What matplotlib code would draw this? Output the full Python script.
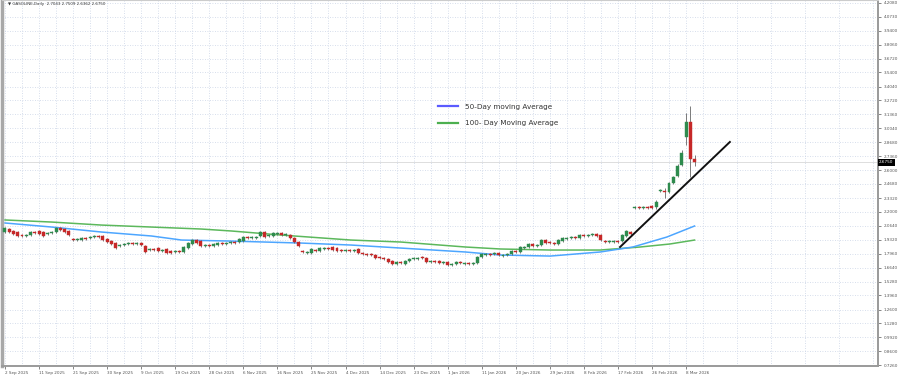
import matplotlib
matplotlib.use("Agg")
import matplotlib.pyplot as plt
from matplotlib.lines import Line2D

# ---------------- data ----------------
title_text = "\u25BC GASOLINE,Daily  2.7043 2.7509 2.6362 2.6750"

opens = [
    2.005, 2.034, 2.015, 2.005, 1.976, 1.967, 1.976, 2.005, 2.015, 2.005,
    1.986, 1.996, 2.005, 2.044, 2.034, 2.015, 1.938, 1.928, 1.928, 1.948,
    1.948, 1.957, 1.967, 1.967, 1.938, 1.919, 1.899, 1.871, 1.880, 1.890,
    1.899, 1.890, 1.899, 1.871, 1.832, 1.842, 1.851, 1.822, 1.842, 1.822,
    1.813, 1.822, 1.813, 1.851, 1.890, 1.928, 1.919, 1.871, 1.880, 1.871,
    1.880, 1.899, 1.890, 1.899, 1.909, 1.909, 1.919, 1.957, 1.948, 1.948,
    1.967, 2.005, 1.967, 1.967, 1.986, 1.996, 1.976, 1.976, 1.948, 1.909,
    1.822, 1.803, 1.803, 1.832, 1.822, 1.842, 1.851, 1.861, 1.851, 1.832,
    1.822, 1.832, 1.822, 1.842, 1.803, 1.794, 1.794, 1.784, 1.765, 1.755,
    1.746, 1.726, 1.698, 1.717, 1.698, 1.726, 1.746, 1.746, 1.765, 1.755,
    1.717, 1.726, 1.726, 1.707, 1.717, 1.688, 1.698, 1.717, 1.698, 1.707,
    1.698, 1.707, 1.765, 1.784, 1.794, 1.794, 1.803, 1.774, 1.784, 1.794,
    1.822, 1.813, 1.851, 1.861, 1.890, 1.871, 1.880, 1.928, 1.909, 1.899,
    1.890, 1.919, 1.938, 1.948, 1.957, 1.948, 1.976, 1.967, 1.976, 1.986,
    1.976, 1.919, 1.909, 1.909, 1.919, 1.919, 1.967, 2.005, 2.236, 2.246,
    2.236, 2.246, 2.255, 2.246, 2.399, 2.399, 2.390, 2.476, 2.544, 2.649,
    2.919, 3.063, 2.707,
]
closes = [
    2.044, 2.005, 1.986, 1.967, 1.967, 1.976, 2.005, 1.996, 1.986, 1.967,
    1.996, 2.005, 2.044, 2.025, 2.005, 1.976, 1.928, 1.938, 1.948, 1.938,
    1.957, 1.967, 1.957, 1.928, 1.909, 1.890, 1.851, 1.880, 1.890, 1.899,
    1.890, 1.899, 1.880, 1.813, 1.842, 1.832, 1.822, 1.832, 1.803, 1.803,
    1.822, 1.813, 1.861, 1.899, 1.928, 1.899, 1.871, 1.880, 1.871, 1.890,
    1.899, 1.890, 1.899, 1.909, 1.899, 1.938, 1.957, 1.948, 1.957, 1.957,
    2.005, 1.957, 1.976, 1.996, 1.996, 1.976, 1.986, 1.948, 1.909, 1.871,
    1.813, 1.813, 1.842, 1.822, 1.851, 1.851, 1.842, 1.832, 1.822, 1.822,
    1.832, 1.822, 1.832, 1.803, 1.794, 1.784, 1.784, 1.755, 1.755, 1.746,
    1.717, 1.698, 1.717, 1.707, 1.726, 1.746, 1.755, 1.755, 1.755, 1.717,
    1.726, 1.717, 1.707, 1.717, 1.688, 1.698, 1.717, 1.707, 1.707, 1.698,
    1.707, 1.765, 1.794, 1.794, 1.784, 1.803, 1.784, 1.784, 1.794, 1.822,
    1.813, 1.861, 1.861, 1.890, 1.871, 1.880, 1.928, 1.899, 1.899, 1.890,
    1.928, 1.948, 1.948, 1.957, 1.948, 1.976, 1.967, 1.976, 1.986, 1.967,
    1.928, 1.909, 1.919, 1.919, 1.909, 1.976, 2.015, 1.986, 2.246, 2.236,
    2.246, 2.236, 2.236, 2.294, 2.409, 2.390, 2.476, 2.534, 2.640, 2.765,
    3.063, 2.707, 2.678,
]
highs = [
    2.056, 2.046, 2.027, 2.017, 1.988, 1.988, 2.017, 2.017, 2.027, 2.017,
    2.008, 2.017, 2.056, 2.056, 2.046, 2.027, 1.950, 1.950, 1.960, 1.960,
    1.969, 1.979, 1.979, 1.979, 1.950, 1.931, 1.911, 1.892, 1.902, 1.911,
    1.911, 1.911, 1.911, 1.880, 1.854, 1.854, 1.863, 1.844, 1.854, 1.834,
    1.834, 1.834, 1.873, 1.911, 1.940, 1.940, 1.931, 1.892, 1.892, 1.902,
    1.911, 1.911, 1.911, 1.921, 1.921, 1.950, 1.969, 1.969, 1.969, 1.969,
    2.017, 2.017, 1.988, 2.008, 2.008, 2.008, 1.998, 1.988, 1.960, 1.921,
    1.834, 1.825, 1.854, 1.844, 1.863, 1.863, 1.863, 1.873, 1.863, 1.844,
    1.844, 1.844, 1.844, 1.854, 1.815, 1.806, 1.806, 1.796, 1.777, 1.767,
    1.758, 1.738, 1.729, 1.729, 1.738, 1.758, 1.767, 1.767, 1.777, 1.767,
    1.738, 1.738, 1.738, 1.729, 1.729, 1.710, 1.729, 1.729, 1.719, 1.719,
    1.719, 1.777, 1.806, 1.806, 1.806, 1.815, 1.815, 1.796, 1.806, 1.834,
    1.834, 1.873, 1.873, 1.902, 1.902, 1.892, 1.940, 1.940, 1.921, 1.911,
    1.940, 1.960, 1.960, 1.969, 1.969, 1.988, 1.988, 1.988, 1.998, 1.998,
    1.988, 1.931, 1.931, 1.931, 1.931, 1.988, 2.027, 2.017, 2.258, 2.258,
    2.258, 2.258, 2.267, 2.314, 2.421, 2.428, 2.490, 2.545, 2.655, 2.790,
    3.149, 3.217, 2.746,
]
lows = [
    1.993, 1.993, 1.974, 1.955, 1.955, 1.955, 1.964, 1.984, 1.974, 1.955,
    1.974, 1.984, 1.993, 2.013, 1.993, 1.964, 1.916, 1.916, 1.916, 1.926,
    1.936, 1.945, 1.945, 1.916, 1.897, 1.878, 1.839, 1.859, 1.868, 1.878,
    1.878, 1.878, 1.868, 1.800, 1.820, 1.820, 1.810, 1.810, 1.791, 1.791,
    1.801, 1.801, 1.801, 1.839, 1.878, 1.887, 1.859, 1.859, 1.859, 1.859,
    1.868, 1.878, 1.878, 1.887, 1.887, 1.897, 1.907, 1.936, 1.936, 1.936,
    1.955, 1.945, 1.955, 1.955, 1.974, 1.964, 1.964, 1.936, 1.897, 1.859,
    1.801, 1.791, 1.791, 1.810, 1.810, 1.830, 1.830, 1.820, 1.810, 1.810,
    1.810, 1.810, 1.810, 1.791, 1.782, 1.772, 1.772, 1.743, 1.743, 1.734,
    1.705, 1.686, 1.686, 1.695, 1.686, 1.714, 1.734, 1.734, 1.743, 1.705,
    1.705, 1.705, 1.695, 1.695, 1.676, 1.676, 1.686, 1.695, 1.686, 1.686,
    1.686, 1.695, 1.753, 1.772, 1.772, 1.782, 1.772, 1.762, 1.772, 1.782,
    1.801, 1.801, 1.839, 1.849, 1.859, 1.859, 1.868, 1.887, 1.887, 1.878,
    1.878, 1.907, 1.926, 1.936, 1.936, 1.936, 1.955, 1.955, 1.964, 1.955,
    1.916, 1.897, 1.897, 1.897, 1.897, 1.907, 1.955, 1.974, 2.224, 2.224,
    2.224, 2.224, 2.224, 2.226, 2.387, 2.332, 2.380, 2.466, 2.530, 2.640,
    2.842, 2.534, 2.640,
]

# moving averages, read at a few bars only
ma50_bars = [0, 11, 22.7, 34.4, 41.5, 53.2, 69.6, 81.3, 93, 108.2, 116.4, 128.1, 139.8, 147.5, 155.5, 162]
ma50_vals = [2.092, 2.053, 2.005, 1.967, 1.928, 1.918, 1.899, 1.880, 1.851, 1.813, 1.784, 1.774, 1.813, 1.861, 1.957, 2.063]
ma100_bars = [0, 11, 22.7, 34.4, 46.1, 53.2, 64.9, 81.3, 93, 108.2, 116.4, 128.1, 139.8, 149.2, 156.2, 162]
ma100_vals = [2.121, 2.101, 2.072, 2.053, 2.034, 2.015, 1.976, 1.928, 1.909, 1.861, 1.842, 1.832, 1.832, 1.861, 1.890, 1.928]

trend_bars = [144.5, 170.3]
trend_vals = [1.861, 2.871]

date_ticks = list(range(0, 161, 8))
date_labels = ["2 Sep 2025", "11 Sep 2025", "21 Sep 2025", "30 Sep 2025", "9 Oct 2025",
               "19 Oct 2025", "28 Oct 2025", "6 Nov 2025", "16 Nov 2025", "25 Nov 2025",
               "4 Dec 2025", "14 Dec 2025", "23 Dec 2025", "1 Jan 2026", "11 Jan 2026",
               "20 Jan 2026", "29 Jan 2026", "8 Feb 2026", "17 Feb 2026", "26 Feb 2026",
               "8 Mar 2026"]
price_ticks = [0.7260, 0.8600, 0.9920, 1.1280, 1.2600, 1.3960, 1.5280, 1.6640, 1.7960,
               1.9320, 2.0640, 2.2000, 2.3320, 2.4680, 2.6000, 2.7360, 2.8680, 3.0040,
               3.1360, 3.2720, 3.4040, 3.5400, 3.6720, 3.8060, 3.9400, 4.0730, 4.2080]
last_price = 2.6750

legend_labels = ["50-Day moving Average", "100- Day Moving Average"]

# ---------------- plot ----------------
fig = plt.figure(figsize=(9, 3.75), dpi=100)
ax = fig.add_axes([2 / 900, 9 / 375, 876 / 900, 366 / 375])

bars = list(range(len(opens)))
up = "#2e8b4e"
down = "#c62828"
colors = [up if c >= o else down for o, c in zip(opens, closes)]
bottoms = [min(o, c) for o, c in zip(opens, closes)]
heights = [max(abs(c - o), 0.011) for o, c in zip(opens, closes)]

ax.vlines(bars, lows, highs, color="#666666", lw=0.6, zorder=3)
ax.bar(bars, heights, bottom=bottoms, width=0.7, color=colors,
       edgecolor=colors, linewidth=0.3, zorder=4)

ax.plot(ma100_bars, ma100_vals, color="#5cb85c", lw=1.1, zorder=2)
ax.plot(ma50_bars, ma50_vals, color="#4da6ff", lw=1.1, zorder=2)
ax.plot(trend_bars, trend_vals, color="#111111", lw=1.4, zorder=5)

ax.axhline(last_price, color="#d8d8d8", lw=0.6, zorder=1)

handles = [Line2D([], [], color="#5b5bff", lw=1.6),
           Line2D([], [], color="#4caf50", lw=1.6)]
ax.legend(handles, legend_labels, loc="upper left", bbox_to_anchor=(0.4905, 0.735),
          frameon=False, fontsize=5.2, labelspacing=1.45, handlelength=2.8,
          handletextpad=0.9, labelcolor="#333333")

ax.set_xlim(-0.7, 205.1)
ax.set_ylim(0.717, 4.236)

ax.yaxis.tick_right()
ax.set_yticks(price_ticks)
ax.set_yticklabels([f"{v:.4f}" for v in price_ticks])
ax.set_xticks(date_ticks)
ax.set_xticklabels(date_labels, ha="left")
ax.set_xticks(list(range(4, 205, 8)), minor=True)
ax.tick_params(axis="y", labelsize=3.0, colors="#555555", length=2, pad=2, width=0.5)
ax.tick_params(axis="x", which="major", labelsize=3.0, colors="#555555", length=2, pad=1.5, width=0.5)
ax.tick_params(axis="x", which="minor", length=0)

ax.grid(True, which="both", axis="x", color="#c9d3e6", lw=0.6, ls=(0, (1, 2)))
ax.grid(True, which="major", axis="y", color="#c9d3e6", lw=0.6, ls=(0, (1, 2)))
ax.set_axisbelow(True)

for side in ["right", "bottom"]:
    ax.spines[side].set_color("#9a9a9a")
    ax.spines[side].set_linewidth(1.4)
ax.spines["left"].set_color("#a8a8a8")
ax.spines["left"].set_linewidth(2.5)
ax.spines["top"].set_color("#cccccc")
ax.spines["top"].set_linewidth(0.8)

ax.text(1.001, last_price, f"{last_price:.4f}", transform=ax.get_yaxis_transform(),
        ha="left", va="center", fontsize=3.0, color="white",
        bbox=dict(facecolor="black", edgecolor="none", pad=0.9), clip_on=False)

fig.text(8 / 900, 1 - 2 / 375, title_text, fontsize=2.9, va="top", ha="left", color="#333333")

fig.savefig("out.png", dpi=100)
